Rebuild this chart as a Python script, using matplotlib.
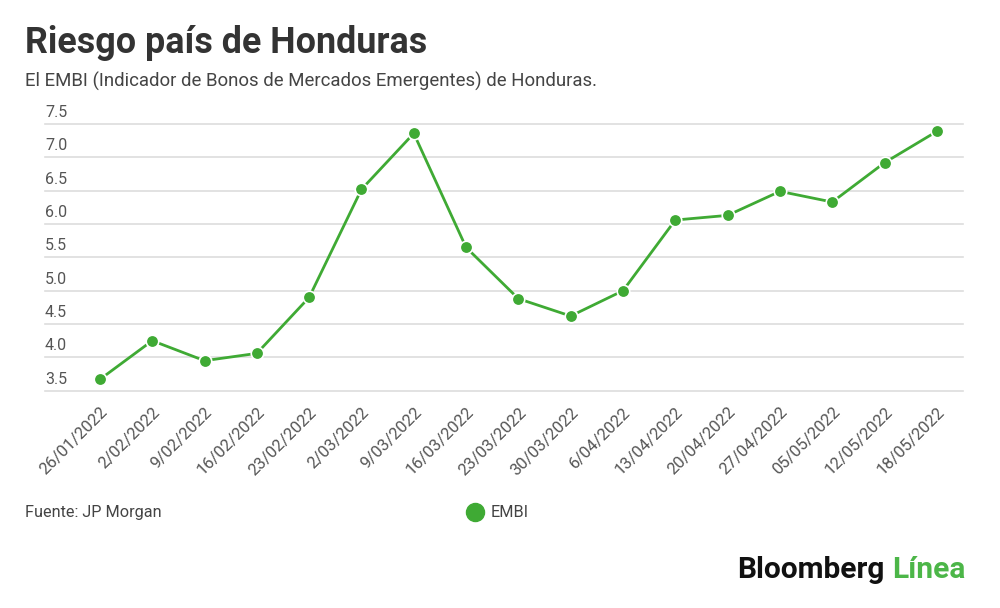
import matplotlib.pyplot as plt

plt.rcParams['font.family'] = ['Roboto', 'DejaVu Sans']

# datos
fechas = ['26/01/2022', '2/02/2022', '9/02/2022', '16/02/2022', '23/02/2022',
          '2/03/2022', '9/03/2022', '16/03/2022', '23/03/2022', '30/03/2022',
          '6/04/2022', '13/04/2022', '20/04/2022', '27/04/2022', '05/05/2022',
          '12/05/2022', '18/05/2022']
embi = [3.67, 4.25, 3.95, 4.06, 4.90, 6.52, 7.36, 5.65, 4.88, 4.62,
        5.00, 6.06, 6.13, 6.49, 6.33, 6.92, 7.39]
yticks = [3.5, 4.0, 4.5, 5.0, 5.5, 6.0, 6.5, 7.0, 7.5]

verde = '#3faa34'

fig = plt.figure(figsize=(10, 6.08), dpi=100)
ax = fig.add_axes([0.045, 0.3574, 0.918, 0.4386])

x = list(range(len(fechas)))
ax.plot(x, embi, color=verde, lw=2, marker='o', markersize=9,
        markerfacecolor=verde, markeredgecolor='white', markeredgewidth=1.2,
        zorder=3, clip_on=False)

ax.set_ylim(3.5, 7.5)
ax.set_xlim(-1.05, 16.5)
ax.set_yticks(yticks)
ax.set_yticklabels([])
ax.tick_params(axis='y', length=0)
for v in yticks:
    ax.axhline(v, color='#dddddd', lw=1.2, zorder=1, clip_on=False)
for s in ax.spines.values():
    s.set_visible(False)

# etiquetas del eje y encima de las lineas
for v in yticks:
    ax.text(0.0, v + 0.06, f'{v:.1f}', transform=ax.get_yaxis_transform(),
            ha='left', va='bottom', fontsize=11.5, color='#555555')

ax.set_xticks(x)
ax.set_xticklabels(fechas, rotation=45, ha='right', va='top',
                   rotation_mode='anchor', fontsize=12, color='#555555')
ax.tick_params(axis='x', length=0, pad=10)

fig.text(0.025, 0.913, 'Riesgo país de Honduras', fontsize=25.8,
         fontweight='bold', color='#333333')
fig.text(0.025, 0.857, 'El EMBI (Indicador de Bonos de Mercados Emergentes) de Honduras.',
         fontsize=13.4, color='#444444')

fig.text(0.025, 0.157, 'Fuente: JP Morgan', fontsize=11.7, color='#444444', va='center')
fig.lines.append(plt.Line2D([0.475], [0.158], transform=fig.transFigure,
                            marker='o', markersize=13, color=verde, lw=0))
fig.text(0.491, 0.157, 'EMBI', fontsize=11.7, color='#444444', va='center')

fig.text(0.737, 0.049, 'Bloomberg', fontsize=21.5, fontweight='bold', color='#111111')
fig.text(0.892, 0.049, 'Línea', fontsize=21.5, fontweight='bold', color='#4cb648')

fig.savefig('out.png', dpi=100, facecolor='white')
